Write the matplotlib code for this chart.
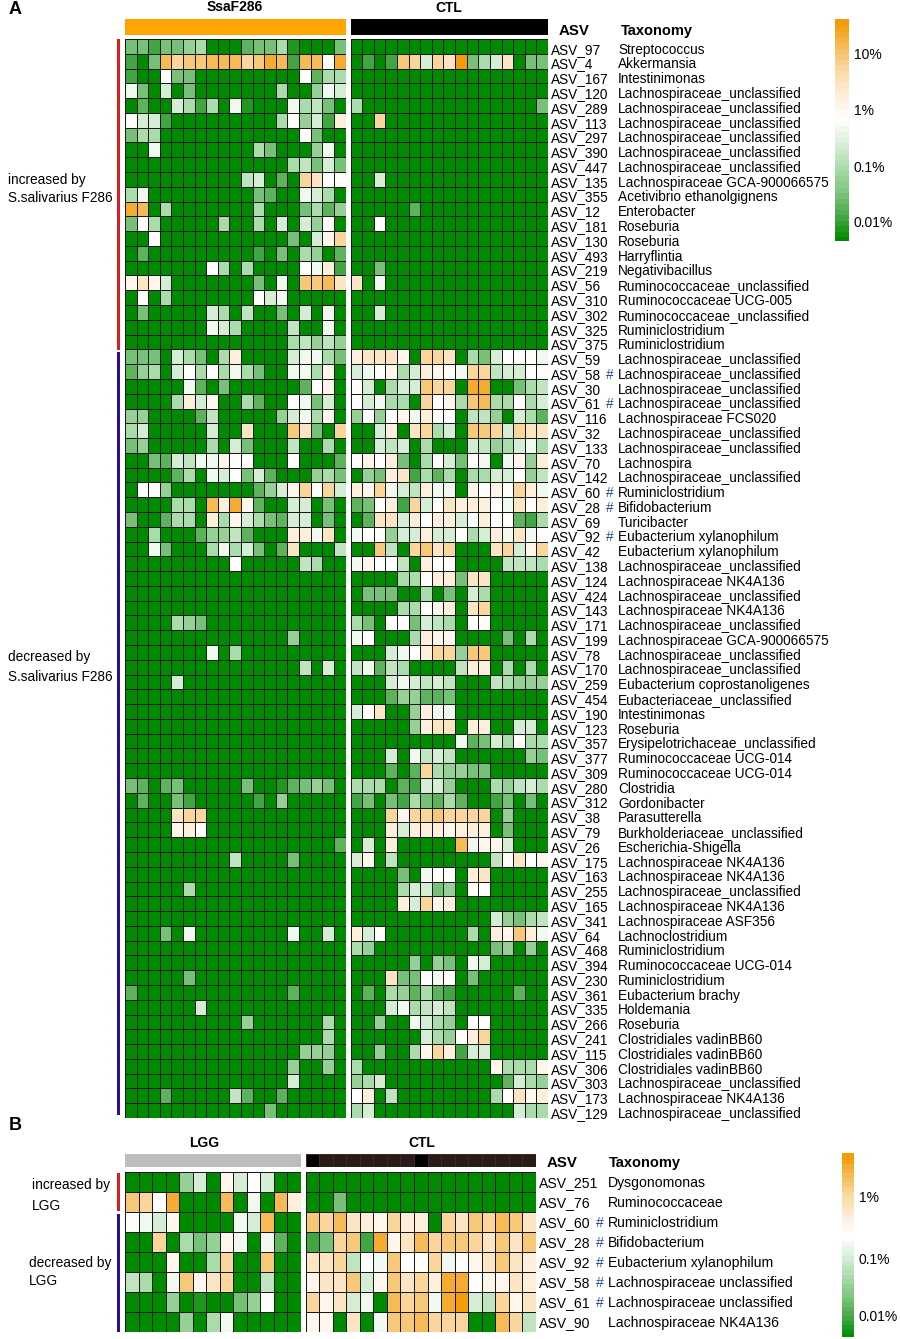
import numpy as np
import matplotlib
matplotlib.use('Agg')
import matplotlib.pyplot as plt
from matplotlib.colors import LinearSegmentedColormap

plt.rcParams['font.family'] = ['Liberation Sans', 'DejaVu Sans']

W, H = 900, 1339

# Panel A labels
asv_a = ['ASV_97', 'ASV_4', 'ASV_167', 'ASV_120', 'ASV_289', 'ASV_113', 'ASV_297', 'ASV_390', 'ASV_447',
         'ASV_135', 'ASV_355', 'ASV_12', 'ASV_181', 'ASV_130', 'ASV_493', 'ASV_219', 'ASV_56', 'ASV_310',
         'ASV_302', 'ASV_325', 'ASV_375', 'ASV_59', 'ASV_58', 'ASV_30', 'ASV_61', 'ASV_116', 'ASV_32',
         'ASV_133', 'ASV_70', 'ASV_142', 'ASV_60', 'ASV_28', 'ASV_69', 'ASV_92', 'ASV_42', 'ASV_138',
         'ASV_124', 'ASV_424', 'ASV_143', 'ASV_171', 'ASV_199', 'ASV_78', 'ASV_170', 'ASV_259', 'ASV_454',
         'ASV_190', 'ASV_123', 'ASV_357', 'ASV_377', 'ASV_309', 'ASV_280', 'ASV_312', 'ASV_38', 'ASV_79',
         'ASV_26', 'ASV_175', 'ASV_163', 'ASV_255', 'ASV_165', 'ASV_341', 'ASV_64', 'ASV_468', 'ASV_394',
         'ASV_230', 'ASV_361', 'ASV_335', 'ASV_266', 'ASV_241', 'ASV_115', 'ASV_306', 'ASV_303', 'ASV_173',
         'ASV_129']
lu = 'Lachnospiraceae_unclassified'
taxa_a = ['Streptococcus', 'Akkermansia', 'Intestinimonas', lu, lu, lu, lu, lu, lu,
          'Lachnospiraceae GCA-900066575', 'Acetivibrio ethanolgignens', 'Enterobacter', 'Roseburia',
          'Roseburia', 'Harryflintia', 'Negativibacillus', 'Ruminococcaceae_unclassified',
          'Ruminococcaceae UCG-005', 'Ruminococcaceae_unclassified', 'Ruminiclostridium', 'Ruminiclostridium',
          lu, lu, lu, lu, 'Lachnospiraceae FCS020', lu, lu, 'Lachnospira', lu,
          'Ruminiclostridium', 'Bifidobacterium', 'Turicibacter', 'Eubacterium xylanophilum',
          'Eubacterium xylanophilum', lu, 'Lachnospiraceae NK4A136', lu, 'Lachnospiraceae NK4A136', lu,
          'Lachnospiraceae GCA-900066575', lu, lu, 'Eubacterium coprostanoligenes',
          'Eubacteriaceae_unclassified', 'Intestinimonas', 'Roseburia', 'Erysipelotrichaceae_unclassified',
          'Ruminococcaceae UCG-014', 'Ruminococcaceae UCG-014', 'Clostridia', 'Gordonibacter',
          'Parasutterella', 'Burkholderiaceae_unclassified', 'Escherichia-Shigella',
          'Lachnospiraceae NK4A136', 'Lachnospiraceae NK4A136', lu, 'Lachnospiraceae NK4A136',
          'Lachnospiraceae ASF356', 'Lachnoclostridium', 'Ruminiclostridium', 'Ruminococcaceae UCG-014',
          'Ruminiclostridium', 'Eubacterium brachy', 'Holdemania', 'Roseburia', 'Clostridiales vadinBB60',
          'Clostridiales vadinBB60', 'Clostridiales vadinBB60', lu, 'Lachnospiraceae NK4A136', lu]
hash_asv = ['ASV_58', 'ASV_61', 'ASV_60', 'ASV_28', 'ASV_92']

# abundance score per cell: 0 = lowest (green), 5 = white, 9 = highest (orange)
ssaf286 = [
    [2, 2, 1, 2, 2, 2.5, 3, 0, 0, 0, 1.5, 2, 2, 3, 0.5, 0, 0, 0, 2],
    [1, 0, 2, 8, 7, 7.5, 7.5, 8, 8, 8, 7, 7.5, 8.5, 8, 1, 8, 8, 5, 8.5],
    [1, 0, 0, 5, 2, 2, 0, 0, 0, 0, 0, 0, 0, 0, 0, 5, 1.5, 3, 3],
    [4.5, 2, 0, 4, 0, 2, 0, 0, 0, 0, 0, 0, 0, 3, 0, 0, 2.5, 4.5, 4],
    [0, 1.5, 0, 0, 4, 3, 1, 3, 0, 4.5, 0.5, 0, 0, 0, 4.5, 3, 3.5, 2, 0],
    [5, 4, 4, 1, 0, 0, 0, 0, 0, 0, 0, 0, 0, 3, 5, 2.5, 4, 1, 6],
    [2, 3, 3, 0, 0, 0, 0, 0, 0, 0, 0, 0, 0, 0, 0, 5, 2, 0, 0],
    [0, 0, 4.5, 0, 0, 0, 0, 0, 0, 0, 0, 3, 2, 0, 0, 0, 2.5, 4.5, 0],
    [0, 0, 0, 0, 0, 0, 0, 0, 0, 0, 0, 0, 0, 0, 3, 3.5, 2, 4, 2],
    [0, 0, 0, 0, 0, 0, 0, 0, 0, 0, 3.5, 4, 0, 1.5, 0, 7, 6.5, 5, 5],
    [3, 4.5, 0, 0, 0, 0, 0, 0, 0, 0, 0, 2, 1.5, 0, 0, 4.5, 4, 3, 0],
    [8.5, 8, 0, 3, 0, 0, 0, 0, 0, 0, 0, 3, 0, 0, 0, 2, 3, 1.5, 2.5],
    [2, 5, 3, 0, 0, 0, 0, 0, 3, 0, 0, 3, 0, 4, 0, 4, 2.5, 5, 0],
    [0, 0, 5, 0, 0, 0, 0, 0, 0, 0, 0, 0, 0, 0, 2, 0, 4, 5.5, 7],
    [0, 1.5, 0, 0, 0, 0, 0, 0, 0, 0, 0, 1, 0, 2, 0, 3, 2.5, 0, 1.5],
    [0, 0, 0, 0, 0, 0, 0, 5, 3, 0, 3, 0, 0, 0, 0, 5, 4.5, 6, 1],
    [5.5, 6.5, 5.5, 4, 0, 0, 0, 0, 0, 0, 0, 2, 0, 4.5, 0, 7.5, 7.5, 8, 6.5],
    [0, 5, 0, 3, 0, 0, 0, 0, 0, 0, 0, 5, 4, 4.5, 0, 0, 0, 0, 0],
    [0, 2, 0, 0, 0, 0, 0, 4, 3, 0, 3.5, 0, 0, 2, 0, 4, 0, 4.5, 0],
    [0, 0, 0, 0, 0, 0, 0, 4.5, 4, 3, 0, 0, 0, 0, 3.5, 0, 0, 4.5, 0],
    [0, 0, 0, 0, 0, 0, 0, 0, 0, 0, 0, 0, 0, 0, 3, 3.5, 2.5, 3.5, 2.5],
    [2, 2, 2, 0, 4, 3, 2, 0, 3, 6, 0, 0, 0, 0, 4, 4.5, 4.5, 3, 2],
    [1.5, 2.5, 3, 0, 4, 5, 3, 5, 3, 4.5, 3, 2, 0, 0, 4.5, 4.5, 3, 5.5, 0],
    [0, 0, 0, 0, 0, 4.5, 1.5, 0, 2, 0, 0, 0, 0, 0, 0, 1.5, 5, 5.5, 0],
    [0, 0, 0, 0, 3, 6, 4, 5.5, 0, 0, 3, 1.5, 0, 0, 5, 4.5, 2, 4, 0],
    [2.5, 2.5, 0, 0, 0, 0, 1.5, 3.5, 0, 0, 0, 0, 0, 2.5, 4, 4.5, 3, 5.5, 0],
    [3, 4, 0, 0, 0, 0, 0, 4, 0, 0, 6.5, 0, 0, 0, 7.5, 6.5, 2, 0, 7],
    [2, 2.5, 0, 0, 0, 0, 0, 3, 0, 4, 2, 0, 0, 0, 3.5, 0, 0, 3, 0],
    [0, 0, 2, 1.5, 4, 3.5, 4.5, 4.5, 5.5, 5, 5, 0, 0, 0, 5, 0, 0, 0, 1.5],
    [0, 0, 0, 0, 1.5, 3, 0, 4.5, 4, 5, 2, 4, 1.5, 0, 0, 0, 2.5, 3, 2],
    [0, 5, 5, 2.5, 0, 0, 0, 0, 0, 0, 0, 1.5, 2.5, 4, 5.5, 7, 5, 7, 4],
    [0, 0, 0, 0, 3, 3, 0, 8, 6, 8.5, 5.5, 1.5, 0, 0, 4, 4, 0, 2, 0],
    [2, 0, 0, 1.5, 3, 3, 0, 6, 3, 5.5, 4, 3, 2, 1.5, 4, 4, 0, 2, 0],
    [0, 0, 3, 0, 0, 0, 1.5, 2.5, 2.5, 3.5, 1.5, 0, 0, 0, 6, 6, 4.5, 6.5, 0],
    [0, 0, 4.5, 2, 0, 0, 0, 3, 4.5, 3, 4, 2, 0, 1.5, 6.5, 0, 0, 0, 3.5],
    [0, 0, 0, 0, 0, 0, 0, 0, 0, 5, 0, 0, 0, 0, 0, 3.5, 3, 0, 0],
    [0] * 19,
    [0] * 19,
    [0] * 19,
    [0, 0, 0, 0, 3, 2.5, 2, 0, 0, 0, 0, 0, 0, 0, 0, 0, 0, 0, 0],
    [0, 0, 0, 0, 0, 0, 0, 0, 0, 0, 0, 0, 0, 0, 2.5, 0, 0, 0, 0],
    [0, 0, 0, 0, 0, 0, 0, 4.5, 0, 3, 0, 0, 0, 0, 0, 0, 0, 0, 0],
    [0, 0, 0, 0, 0, 0, 0, 0, 0, 0, 0, 0, 0, 0, 0, 3.5, 0, 4, 0],
    [0, 0, 0, 0, 4, 0, 0, 0, 0, 0, 0, 0, 0, 0, 0, 0, 0, 0, 0],
    [0] * 19,
    [0] * 19,
    [0] * 19,
    [0] * 19,
    [0] * 19,
    [0] * 19,
    [2, 1.5, 0, 1.5, 2, 0, 0, 0, 0, 0, 2, 0, 0, 0.5, 1.5, 2, 2.5, 2, 0],
    [0, 1.5, 0, 0, 2, 1, 0, 0, 0, 0, 0, 1, 0, 2.5, 0, 0, 0, 0, 0],
    [0, 0, 0, 0, 6.5, 7, 7, 0, 0, 0, 0, 0, 0, 0, 0, 0, 0, 0, 0],
    [0, 0, 0, 0, 5.5, 6, 5, 0, 0, 0, 0, 0, 0, 0, 0, 0, 0, 0, 0],
    [0, 0, 0, 0, 0, 0, 0, 0, 0, 0, 0, 0, 0, 0, 0, 0, 0, 0, 1.5],
    [0, 0, 0, 0, 0, 0, 0, 0, 0, 3.5, 0, 0, 0, 0, 2, 0, 0, 0, 0],
    [0] * 19,
    [0, 0, 0, 0, 0, 3, 0, 0, 0, 0, 0, 0, 0, 0, 0, 0, 0, 0, 0],
    [0] * 19,
    [0] * 19,
    [0, 0, 0, 2, 0, 4.5, 0, 0, 0, 0, 0, 0, 0, 0, 4.5, 0, 0, 4, 0],
    [0] * 19,
    [0] * 19,
    [0, 0, 0, 0, 0, 2, 0, 0, 0, 0, 0, 0, 0, 0, 0, 0, 0, 0, 0],
    [1.5, 0, 0, 0, 0, 0, 0, 0, 0, 0, 0, 0, 0, 0, 1.5, 0, 0, 0, 0],
    [0, 0, 0, 0, 0, 0, 4, 0, 0, 0, 0, 0, 0, 0, 0, 0, 0, 0, 0],
    [0, 0, 0, 0, 0, 0, 0, 0, 0, 0, 2.5, 0, 0, 0, 0, 0, 0, 3, 0],
    [0, 0, 0, 0, 0, 0, 0, 0, 0, 0, 0, 0, 0, 0, 0, 0, 0, 3, 0],
    [0, 0, 0, 0, 0, 0, 0, 0, 0, 0, 0, 0, 0, 0, 0, 2.5, 2.5, 2.5, 0],
    [0, 0, 0, 0, 0, 0, 0, 0, 0, 0, 0, 0, 0, 0, 2.5, 0, 0, 2.5, 0],
    [0, 0, 0, 0, 0, 0, 0, 0, 0, 0, 0, 0, 0, 0, 4, 0, 0, 0, 0],
    [0, 0, 0, 1.5, 0, 0, 0, 0, 0, 3.5, 1.5, 0, 0, 1.5, 0, 0, 0, 0, 0],
    [0, 0, 0, 0, 0, 0, 0, 0, 0, 0, 0, 0, 2, 0, 0, 0, 0, 0, 0],
]

ctl_a = [
    [0] * 17,
    [0, 1, 0, 1, 7.5, 7, 4, 7, 6.5, 9, 2, 3, 4, 6.5, 0, 2, 2],
    [0] * 17,
    [0] * 17,
    [3, 0, 0, 0, 0, 0, 0, 0, 0, 0, 0, 0, 0, 0, 0, 0, 2],
    [0, 0, 7, 0, 0, 0, 0, 0, 0, 0, 0, 0, 0, 0, 0, 0, 0],
    [0] * 17,
    [0] * 17,
    [0] * 17,
    [0, 0, 4, 0, 0, 0, 0, 0, 0, 0, 0, 0, 0, 0, 0, 0, 0],
    [0] * 17,
    [0, 0, 0, 0, 0, 1.5, 0, 0, 0, 0, 0, 0, 0, 0, 0, 0, 0],
    [0, 0, 5, 0, 0, 0, 0, 0, 0, 0, 0, 0, 0, 0, 0, 0, 0],
    [0] * 17,
    [0] * 17,
    [0, 0, 2, 0, 0, 0, 0, 0, 0, 0, 0, 0, 0, 0, 0, 0, 0],
    [6.5, 0, 4.5, 0, 0, 0, 0, 0, 0, 0, 0, 0, 0, 0, 0, 0, 0],
    [0] * 17,
    [0, 0, 4, 0, 0, 0, 0, 0, 0, 0, 0, 0, 0, 0, 0, 0, 0],
    [0] * 17,
    [0] * 17,
    [6, 6.5, 6.5, 6.5, 5.5, 0, 7, 7, 6.5, 0, 3, 2, 4, 5, 5, 5, 4.5],
    [4, 4.5, 5, 5.5, 3, 4, 6, 5.5, 5, 4.5, 7, 7, 3.5, 4, 4, 5, 5],
    [5, 4, 0, 3, 4, 4, 7.5, 7, 7, 0, 8.5, 8.5, 0, 0, 2, 3, 3.5],
    [5, 4, 4.5, 3, 3, 0, 7, 5, 5.5, 3, 7.5, 8, 3, 3, 5, 3, 4],
    [2.5, 5, 2.5, 5, 5.5, 4.5, 6, 5, 5, 0, 3.5, 3.5, 2.5, 0, 4, 3, 1.5],
    [0, 0, 4, 6, 0, 6.5, 7, 3, 4, 0, 7.5, 7.5, 7, 4, 7, 6.5, 6.5],
    [0, 0, 4, 3.5, 4, 0, 3, 0, 0, 0, 4, 3.5, 2.5, 3, 4, 4.5, 3],
    [5, 5.5, 5, 6, 2, 0, 3, 5, 4, 2, 5, 4.5, 0, 4.5, 5.5, 2.5, 6],
    [0, 2.5, 2, 6, 6.5, 1, 3, 1.5, 3, 0, 3, 3, 4, 4, 5, 2.5, 3.5],
    [6, 5.5, 7, 4.5, 4, 3.5, 6, 4.5, 4.5, 0, 5.5, 5, 5.5, 5, 7, 6, 4.5],
    [1.5, 2, 5, 6, 1, 7, 4, 5, 6.5, 6, 6, 6, 5, 4.5, 6.5, 5, 6],
    [0, 1.5, 6.5, 6.5, 4, 6, 5, 6, 6, 4, 5, 6, 5, 5, 1.5, 1, 3],
    [4.5, 5, 5, 2.5, 4, 4, 6, 4, 4, 5, 3, 4, 6, 4.5, 6.5, 4.5, 5],
    [0, 0, 7.5, 3.5, 0, 7, 7.5, 6.5, 7, 0, 0, 0, 6.5, 7, 4, 5.5, 7],
    [4.5, 5.5, 5, 5, 3.5, 0, 6, 5, 5, 0, 0, 0, 0, 3.5, 3.5, 3.5, 3],
    [0, 0, 0, 0, 3, 3, 5, 6, 6, 2, 6.5, 6.5, 0, 0, 0, 0, 0],
    [0, 2, 2, 2, 0, 0, 3, 0, 2, 0, 4, 3, 0, 0, 0, 0, 0],
    [0, 0, 0, 0, 3, 3, 5, 5.5, 6, 0, 6.5, 7, 0, 0, 0, 0, 0],
    [3, 2, 0, 5, 5, 2, 4, 3.5, 3, 0, 5, 5, 0, 0, 0, 0, 0],
    [4.5, 5, 0, 0, 0, 3, 6, 5.5, 5.5, 0, 0, 0, 0, 2, 0, 3, 0],
    [0, 0, 0, 4, 4.5, 5, 6, 7, 7, 2.5, 7.5, 7.5, 0, 0, 0, 0, 0],
    [3.5, 4.5, 1.5, 3.5, 3, 0, 0, 0, 0, 3.5, 6, 6, 0, 3, 0, 3, 0],
    [0, 0, 0, 4, 4.5, 4, 3.5, 4, 3.5, 0, 0, 0, 3.5, 3, 2.5, 2.5, 2.5],
    [0, 0, 0, 1.5, 2.5, 2.5, 1.5, 1.5, 2, 0, 0, 0, 0, 0, 0, 0, 0],
    [4, 5, 6.5, 0, 0, 2.5, 6, 4.5, 4.5, 0, 0, 0, 0, 0, 0, 0, 0],
    [0, 0, 0, 0, 0, 2.5, 6, 6.5, 6.5, 0, 6, 6, 0, 0, 4, 4, 0],
    [0, 0, 0, 0, 0, 0, 0, 0, 0, 4.5, 1.5, 2, 4, 3, 5, 3, 3],
    [0, 0, 0, 4, 0, 4.5, 3.5, 4, 3.5, 0, 0, 0, 0, 0, 0, 2.5, 2],
    [0, 0, 0, 1.5, 0, 1.5, 7, 3, 2.5, 2.5, 2, 2, 0, 0, 0, 0, 0],
    [3, 3, 3, 0, 1.5, 1, 4, 4, 2.5, 0, 0, 0, 3, 2.5, 3.5, 4, 3],
    [1, 2, 0, 2, 1, 3, 2, 1.5, 3, 1.5, 0, 0, 1, 2, 0, 2, 0],
    [0, 0, 0, 7, 5.5, 7, 7, 7.5, 7, 7, 7, 7, 0, 2.5, 0, 0, 0],
    [0, 0, 0, 6, 4, 6, 6, 6, 5.5, 6, 6, 6, 0, 2, 0, 0, 0],
    [0, 4, 0, 6, 0, 0, 0, 0, 0, 8, 4.5, 5.5, 5.5, 4, 0, 0, 0],
    [4, 5.5, 0, 3.5, 0, 0, 0, 0, 0, 0, 0, 0, 3.5, 5, 6.5, 5, 5.5],
    [0, 0, 0, 0, 2, 0, 4.5, 5, 5, 0, 6, 6.5, 0, 0, 0, 0, 0],
    [0, 0, 0, 0, 3, 4, 4, 2, 2.5, 0, 5, 5, 0, 0, 0, 0, 0],
    [0, 0, 0, 0, 6, 4, 7, 5.5, 6, 0, 0, 0, 0, 0, 0, 0, 0],
    [0, 0, 0, 0, 0, 0, 0, 0, 0, 0, 0, 0, 4, 2.5, 2, 3, 3.5],
    [6, 4, 5, 0, 0, 0, 0, 0, 0, 0, 3, 0, 6, 5.5, 7.5, 6, 4.5],
    [3, 2.5, 0, 0, 0, 0, 0, 0, 0, 0, 0, 0, 2, 2.5, 0, 2.5, 0],
    [0, 0, 0, 0, 0, 2.5, 0, 2.5, 2, 0, 4.5, 4, 0, 0, 0, 0, 0],
    [0, 0, 0, 6.5, 2, 2, 5, 4.5, 5, 0, 2, 0, 0, 0, 0, 0, 0],
    [0, 1.5, 0, 3, 2.5, 1.5, 3, 1.5, 1, 0, 0, 0, 0, 0, 1.5, 0, 0],
    [0, 0, 0, 4, 4.5, 3, 3.5, 4, 3.5, 0, 0, 0, 0, 0, 0, 0, 0],
    [0, 0, 2.5, 0, 0, 4.5, 4, 3, 2.5, 0, 5, 5, 0, 0, 0, 0, 0],
    [0, 0, 0, 0, 0, 0, 4, 3, 2.5, 5, 6, 7, 0, 0, 0, 0, 0],
    [0, 0, 2.5, 0, 0, 3, 5.5, 7, 6, 1, 4, 4, 0, 0, 0, 0, 0],
    [3, 0, 0, 0, 0, 0, 0, 0, 0, 0, 0, 0, 5.5, 3, 3, 3, 5.5],
    [2.5, 3, 4, 0, 0, 0, 0, 0, 0, 0, 0, 0, 0, 1.5, 4, 3, 2.5],
    [5, 6, 0, 3.5, 0, 0, 0, 0, 0, 0, 0, 0, 3, 5, 6.5, 5.5, 6],
    [3, 4, 0, 0, 0, 0, 0, 0, 0, 0, 0, 0, 0, 0, 4, 3, 3],
]

# Panel B
asv_b = ['ASV_251', 'ASV_76', 'ASV_60', 'ASV_28', 'ASV_92', 'ASV_58', 'ASV_61', 'ASV_90']
taxa_b = ['Dysgonomonas', 'Ruminococcaceae', 'Ruminiclostridium', 'Bifidobacterium', 'Eubacterium xylanophilum',
          'Lachnospiraceae unclassified', 'Lachnospiraceae unclassified', 'Lachnospiraceae NK4A136']
lgg = [
    [0, 0, 0, 0, 2.5, 4, 0, 5.5, 4, 5, 4, 0, 0],
    [7.5, 7, 5, 8.5, 0, 0, 0, 8, 0, 4.5, 0, 8, 6],
    [5, 4.5, 4, 5.5, 0, 0, 0, 0, 4.5, 4, 8, 0, 0],
    [0, 0, 7, 0, 3, 2, 2.5, 5.5, 4.5, 0, 4.5, 1.5, 0],
    [0, 0, 0, 5.5, 0, 0, 3, 7, 0, 0, 7.5, 0, 0],
    [3.5, 3, 0, 4.5, 7.5, 5.5, 6.5, 7, 0, 0, 3.5, 0, 0],
    [0, 0, 0, 2.5, 0, 0.5, 0, 0, 2, 2.5, 5, 0, 0],
    [0, 0, 0, 0, 2.5, 0, 3, 4.5, 0, 0, 0, 0, 0],
]
ctl_b = [
    [0] * 17,
    [0, 0, 2, 0, 0, 0, 0, 0, 0, 0, 0, 0, 0, 0, 0, 0, 0],
    [7.5, 7, 8, 6.5, 6, 5.5, 7, 6, 6, 0, 7, 6.5, 7.5, 7, 8, 7.5, 6.5],
    [1, 2, 7, 7.5, 1, 8.5, 5.5, 6.5, 8, 7, 7.5, 7.5, 7, 6.5, 7.5, 6.5, 7.5],
    [6.5, 6.5, 7, 3.5, 5, 4.5, 7.5, 5, 5, 7, 4.5, 5, 5.5, 6.5, 7.5, 6.5, 6],
    [5.5, 6.5, 6.5, 7.5, 4, 5.5, 7.5, 6.5, 7, 6, 8.5, 8.5, 5, 5.5, 5.5, 6.5, 6],
    [7, 5.5, 6.5, 4, 4.5, 0, 8, 7, 7.5, 4.5, 8.5, 9, 4, 3.5, 7, 5.5, 6.5],
    [5.5, 5.5, 0, 6.5, 0, 4.5, 7.5, 7.5, 8, 7, 7, 7, 0, 0, 8, 7, 3.5],
]
ctl_b_track = [0, 1, 1, 1, 1, 1, 1, 1, 0, 1, 1, 1, 1, 1, 1, 1, 1]

# colour bars: position of the tick labels on the 0-9 score
cbar_a_ticks = [0.8, 3.03, 5.33, 7.6]
cbar_a_labels = ['0.01%', '0.1%', '1%', '10%']
cbar_b_ticks = [1.03, 3.86, 6.85]
cbar_b_labels = ['0.01%', '0.1%', '1%']

cmap = LinearSegmentedColormap.from_list('abund', [
    (0 / 9, '#008a00'), (1 / 9, '#46a846'), (2 / 9, '#80c480'), (3 / 9, '#aadbaa'), (4 / 9, '#d8eed8'),
    (5 / 9, '#ffffff'), (6 / 9, '#fdefdc'), (7 / 9, '#fbdaa8'), (8 / 9, '#f6bd5c'), (9 / 9, '#f39c08')], N=40)
GRID = '#141a14'

fig = plt.figure(figsize=(W / 100, H / 100), dpi=100)


def px_axes(x0, y0, x1, y1):
    ax = fig.add_axes([x0 / W, 1 - y1 / H, (x1 - x0) / W, (y1 - y0) / H])
    return ax


def heat(data, x0, y0, x1, y1):
    ax = px_axes(x0, y0, x1, y1)
    m = ax.pcolormesh(np.array(data, dtype=float), cmap=cmap, vmin=0, vmax=9, edgecolors=GRID, linewidth=0.72,
                      antialiased=True)
    ax.invert_yaxis()
    ax.set_axis_off()
    return m


def track(x0, y0, x1, y1, color):
    ax = px_axes(x0, y0, x1, y1)
    ax.set_facecolor(color)
    ax.set_xticks([])
    ax.set_yticks([])
    for s in ax.spines.values():
        s.set_visible(False)


def label(x, y, s, size=9.8, **kw):
    # y is the middle of the capital letters
    fig.text(x / W, 1 - (y + 0.36 * size * 100 / 72) / H, s, fontsize=size, va='baseline', **kw)


def cbar(mesh, x0, y0, x1, y1, ticks, labels, size, pad):
    cax = px_axes(x0, y0, x1, y1)
    cb = fig.colorbar(mesh, cax=cax, ticks=ticks)
    cb.ax.set_yticklabels(labels, fontsize=size)
    cb.ax.tick_params(length=0, pad=pad)
    cb.outline.set_visible(False)
    cb.solids.set_edgecolor('face')


# Panel A
label(9, 8, 'A', size=13, fontweight='bold')
label(235, 6, 'SsaF286', size=10, fontweight='bold', ha='center')
label(449, 7, 'CTL', size=10, fontweight='bold', ha='center')
track(125, 19, 345.5, 35, '#ffa500')
track(350.5, 19, 548, 35, '#000000')
label(559, 30, 'ASV', size=10.8, fontweight='bold')
label(621, 30, 'Taxonomy', size=10.5, fontweight='bold')

m = heat(ssaf286, 125, 39, 345.5, 1118)
heat(ctl_a, 350.5, 39, 548, 1118)

row_h = (1118 - 39) / len(asv_a)
for i, (a, t) in enumerate(zip(asv_a, taxa_a)):
    y = 39 + (i + 0.5) * row_h + 2.4
    label(551, y, a)
    label(618, y, t)
    if a in hash_asv:
        label(606, y, '#', color='#2a4d9a')

track(117, 39, 119.5, 350, '#d81e1e')
track(117, 352, 119.5, 1115, '#2d0f96')
label(8, 179, 'increased by', size=9.8)
label(8, 197, 'S.salivarius F286', size=9.8)
label(8, 656, 'decreased by', size=9.8)
label(8, 676, 'S.salivarius F286', size=9.8)
cbar(m, 835, 19, 849, 241, cbar_a_ticks, cbar_a_labels, 10, 3.5)

# Panel B
label(9, 1123, 'B', size=13, fontweight='bold')
label(204, 1142, 'LGG', size=10, fontweight='bold', ha='center')
label(422, 1142, 'CTL', size=10, fontweight='bold', ha='center')
track(125, 1154, 301, 1167, '#bdbdbd')
tr = px_axes(305.5, 1154, 536, 1167)
tr.pcolormesh(np.array([ctl_b_track]), cmap=LinearSegmentedColormap.from_list('t', ['#000000', '#2b1a17']),
              edgecolors='#3a2a28', linewidth=0.4)
tr.set_axis_off()
label(547, 1162, 'ASV', size=10.8, fontweight='bold')
label(609, 1162, 'Taxonomy', size=10.5, fontweight='bold')

m2 = heat(lgg, 125, 1172, 301, 1332)
heat(ctl_b, 305.5, 1172, 536, 1332)

row_h = (1332 - 1172) / len(asv_b)
for i, (a, t) in enumerate(zip(asv_b, taxa_b)):
    y = 1172 + (i + 0.5) * row_h
    label(539, y, a, size=10.1)
    label(608, y, t, size=10.1)
    if a in hash_asv:
        label(596, y, '#', size=10.1, color='#2a4d9a')

track(117, 1173, 119.5, 1211, '#d81e1e')
track(117, 1214, 119.5, 1332, '#2d0f96')
label(32, 1184, 'increased by', size=9.9)
label(32, 1205, 'LGG', size=9.9)
label(29, 1262, 'decreased by', size=9.9)
label(29, 1280, 'LGG', size=9.9)
cbar(m2, 842, 1153, 854, 1337, cbar_b_ticks, cbar_b_labels, 10, 3.5)

fig.savefig('out.png', dpi=100)
